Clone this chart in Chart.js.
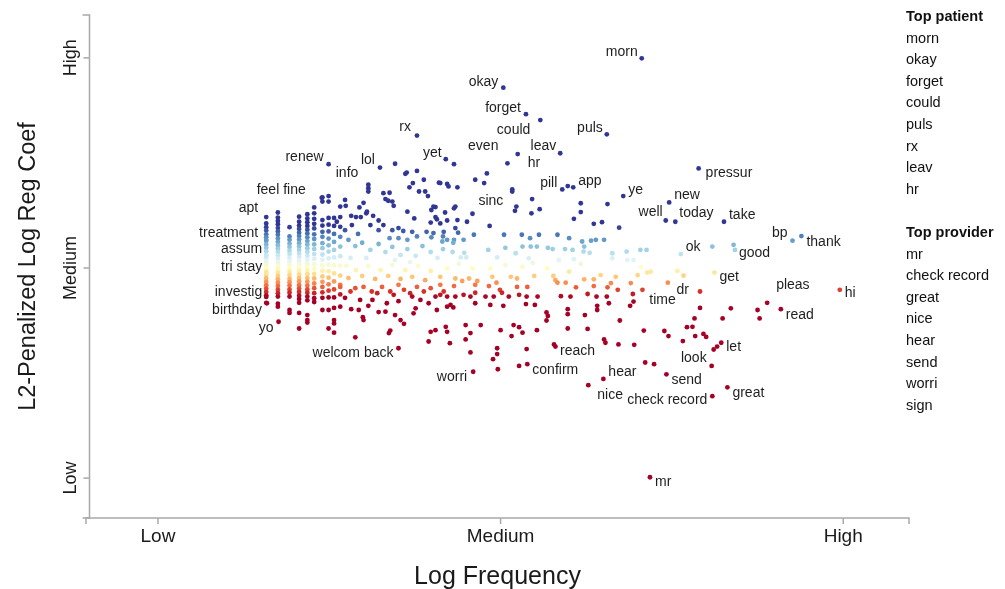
<!DOCTYPE html>
<html><head><meta charset="utf-8">
<script src="https://cdn.jsdelivr.net/npm/chart.js@4"></script>
<style>html,body{margin:0;padding:0;background:#fff}#wrap{width:1005px;height:589px;position:relative}</style>
</head><body><div id="wrap"><canvas id="c" width="1005" height="589"></canvas></div>
<script>
// ---------- DATA (x: log frequency, y: L2-penalized log reg coef; Low=0, Medium=50, High=100) ----------
const tickValues = [0, 50, 100];
const tickLabels = ['Low', 'Medium', 'High'];
const xTitle = 'Log Frequency';
const yTitle = 'L2-Penalized Log Reg Coef';

// dense low-frequency columns
const columnX = [15.8, 17.5, 19.2, 20.6, 21.8, 22.8, 24.0, 24.9, 25.7, 26.6];
const columnY = [
  [60.6,59.7,58.9,58.0,57.3,56.4,55.6,54.8,54.0,53.1,52.3,51.5,50.7,49.9,49.1,48.3,47.5,46.7,45.9,45.1,44.3,43.5,41.7],
  [63.2,62.0,61.2,60.4,59.5,58.7,57.9,57.0,56.2,55.4,54.6,53.8,53.0,52.2,51.3,50.5,49.7,48.9,48.1,47.3,46.5,45.7,44.8,44.0,43.2,41.5,40.8],
  [59.7,57.5,56.7,55.8,55.0,54.1,53.3,52.4,51.6,50.8,49.9,49.1,48.3,47.4,46.6,45.8,44.9,44.1,43.2,40.0,39.3],
  [62.2,61.0,60.1,59.3,58.4,57.6,56.8,55.9,55.1,54.3,53.4,52.6,51.8,50.9,50.1,49.3,48.4,47.6,46.8,45.9,45.1,44.3,43.4,42.6,41.7,39.3,35.6],
  [62.8,61.8,60.9,60.0,59.1,58.2,57.3,56.4,55.6,54.7,53.8,52.9,52.0,51.1,50.3,49.4,48.5,47.6,46.7,45.8,44.9,44.1,43.2,42.3,38.8,37.6,37.0],
  [64.4,63.0,61.7,60.5,59.4,58.0,56.9,55.6,54.5,53.3,52.2,50.9,49.8,48.6,47.5,46.3,45.2,44.0,42.8,41.9],
  [66.8,65.8,61.4,60.1,58.6,57.4,55.9,54.7,53.2,52.0,50.6,49.3,48.0,46.7,45.5,44.2,42.9,40.0],
  [67.1,65.8,61.9,60.3,58.7,57.0,55.4,53.9,52.3,50.8,49.2,47.7,46.1,44.6,43.0,40.0,35.6],
  [61.9,60.0,58.1,56.2,54.3,52.5,50.6,48.7,46.8,44.9,43.0,40.5,37.6,36.8,34.6],
  [62.1,59.8,57.4,55.1,52.8,50.5,48.2,46.0,43.7,40.8]
];

// other words, [x, y]
const upperWords = [
  [34.6,74.8],[36.3,72.7],[37.8,73.1],[30.7,68.2],[30.7,69.0],[32.9,67.8],[33.8,67.9],[33.2,66.4],[33.6,66.0],[34.2,65.8],
  [34.4,64.8],[37.2,70.2],[36.7,69.2],[38.8,71.0],[38.1,68.2],[39.0,68.2],[41.0,70.3],[42.2,70.0],[39.4,67.1],[27.3,66.2],
  [27.4,64.8],[30.0,65.5],[29.4,64.4],[26.6,64.6],[28.2,62.4],[28.9,62.1],[29.6,62.1],[30.5,63.4],[31.4,62.4],[34.2,59.0],
  [35.1,59.5],[36.4,63.4],[39.9,63.8],[40.7,61.6],[39.8,60.8],[40.5,64.5],[37.1,58.6],[33.8,57.1],[39.2,58.6],[39.9,57.3],
  [42.2,56.7],[30.4,63.0],[32.2,61.3],[32.9,60.2],[31.0,60.2],[32.2,59.0],[28.3,60.2],[26.1,61.0],[35.8,58.8],[36.4,56.7],
  [37.8,57.5],[40.2,58.3],[41.2,60.6],[41.7,58.6],[41.5,56.3],[43.2,56.7],[43.7,61.4],[37.4,61.8],[36.1,72.4],[42.4,69.4],
  [41.9,63.2],[43.4,64.6],[40.2,64.6],[43.2,74.7],[48.0,72.5],[46.3,71.0],[47.6,70.2],[41.2,70.2],[43.7,69.2],[51.7,68.7],
  [51.7,68.2],[59.8,69.5],[54.6,66.4],[61.7,65.4],[65.6,65.2],[43.2,64.2],[52.1,63.6],[55.7,64.0],[54.5,63.0],[45.9,62.9],
  [61.7,63.3],[60.7,61.7],[45.1,61.0],[42.2,61.3],[63.6,60.5],[64.8,60.9],[48.4,60.0],[43.4,59.5],[43.8,58.4],[46.1,57.9],
  [50.5,57.9],[53.1,57.9],[54.3,57.1],[55.6,57.9],[58.3,57.9],[60.0,57.1],[61.9,56.3],[63.2,56.5],[63.9,56.7],[65.1,56.7],
  [41.6,57.5],[44.6,56.7],[43.1,56.0],[67.3,59.6],[40.5,62.1]
];
const middleWords = [
  [41.6,54.5],[44.7,53.6],[53.2,55.1],[54.4,55.1],[55.3,55.1],[56.9,54.8],[57.6,54.5],[59.4,54.5],[60.5,54.3],[62.2,55.1],
  [62.1,53.9],[66.3,53.5],[66.3,52.3],[68.5,51.9],[69.4,51.9],[70.4,54.3],[71.3,54.3],[44.2,52.5],[45.0,52.5],[49.5,52.5],
  [52.2,53.5],[54.1,52.3],[58.5,51.9],[60.7,52.1],[48.2,54.3],[50.7,54.8],[80.9,55.1],[84.0,55.5],[63.0,53.6],[68.4,53.9],
  [27.8,56.7],[28.8,55.2],[29.8,56.0],[31.0,54.3],[32.2,55.7],[33.2,53.8],[34.2,55.0],[35.4,53.1],[36.4,54.5],[37.6,52.9],
  [38.6,55.2],[39.8,53.8],[40.8,52.4],[43.0,53.8],[28.1,52.4],[30.4,52.4],[34.6,51.9],[36.8,51.4],[27.3,59.0],[29.2,58.1],
  [35.1,57.1],
  [27.5,50.5],[28.9,49.5],[30.7,50.5],[32.5,49.5],[34.2,50.7],[36.1,49.5],[38.0,50.5],[39.8,49.3],[42.2,49.9],[45.9,49.9],
  [48.5,49.9],[53.2,50.3],[56.8,49.9],[60.0,49.1],[64.6,48.3],[66.8,47.9],[70.5,50.2],[71.9,49.1],[75.8,49.3],[76.7,48.2],
  [43.9,51.0],[50.7,50.7],[54.7,51.2],[61.7,51.0],
  [41.2,47.9],[43.4,47.5],[44.4,46.9],[45.4,47.5],[46.6,46.9],[48.8,47.9],[51.5,47.9],[52.4,47.5],[54.9,48.1],[57.7,48.1],
  [58.0,47.1],[58.3,46.5],[59.5,46.5],[62.2,47.3],[63.6,47.3],[65.6,45.4],[43.2,45.7],[46.3,46.0],[48.3,45.7],[49.4,46.5],
  [49.9,44.8],[52.4,45.5],[53.9,45.5],[61.0,45.4],[63.6,45.7],[71.4,48.9],[70.0,48.3],[26.6,45.5],[28.1,44.4],[28.8,45.2],
  [30.0,45.5],[31.2,44.4],[32.7,45.5],[35.1,46.0],[35.9,44.8],[37.8,45.5],[39.8,45.2],[41.2,46.0],[27.8,47.6],[29.8,48.1],
  [31.7,47.4],[33.6,48.1],[35.4,47.4],[37.1,47.9],[39.0,47.1],[66.1,46.4],[67.1,44.8],[69.0,46.4]
];
const lowerWords = [
  [41.2,43.6],[42.2,43.2],[43.4,43.2],[44.6,43.6],[45.6,43.2],[46.3,44.1],[47.8,43.2],[49.0,43.2],[50.2,44.1],[51.2,43.2],
  [52.7,43.6],[53.8,43.2],[55.4,43.2],[58.8,43.3],[60.2,43.2],[62.7,43.8],[64.0,43.2],[65.5,43.2],[69.3,43.8],[42.7,41.2],
  [43.1,40.6],[46.3,41.6],[48.5,41.2],[50.4,41.0],[53.7,41.4],[55.0,41.2],[56.7,39.4],[56.9,38.6],[59.8,40.2],[59.8,39.0],
  [62.3,38.8],[64.1,41.0],[64.1,40.0],[65.8,41.6],[67.4,37.5],[68.9,41.0],[69.4,42.0],[70.7,44.8],[79.1,40.5],[78.3,38.0],
  [83.6,40.4],[82.4,38.0],[87.5,40.0],[87.8,38.0],[28.2,40.2],[29.3,40.0],[29.9,38.3],[30.0,37.6],[29.5,42.4],[33.4,41.6],
  [33.2,39.6],[33.7,34.5],[33.9,35.1],[35.4,37.6],[35.9,36.7],[37.3,39.2],[37.6,40.4],[39.5,41.6],[39.8,34.8],[39.5,32.5],
  [40.5,35.2],[42.0,36.0],[40.7,40.0],[42.2,40.8],[28.8,33.5],[34.4,43.6],[36.8,44.0],[37.1,43.2],[38.8,44.4],[40.5,43.2],
  [41.7,44.4],[32.0,44.0],[33.9,44.4],[27.3,42.9],[31.3,42.4],[35.1,42.1],[38.3,42.4],[30.7,41.0],[32.2,39.5],[34.6,38.8],
  [42.2,34.8],[44.9,36.4],[45.6,34.5],[47.1,36.4],[44.9,33.0],[42.6,32.1],[45.6,29.9],[50.0,35.2],[51.9,36.4],[52.7,35.9],
  [53.2,34.6],[51.6,33.8],[55.3,35.2],[56.7,37.5],[59.8,35.6],[62.7,35.5],[49.5,30.9],[49.5,29.5],[48.9,28.3],[49.6,25.9],
  [53.8,30.7],[58.0,31.3],[52.7,26.7],[65.1,33.0],[65.3,32.2],[67.2,31.8],[69.5,31.7],[70.9,35.1],[73.9,35.0],[74.5,33.8],
  [76.6,32.6],[77.2,35.9],[78.0,36.0],[78.4,33.8],[79.6,34.3],[80.0,33.6],[81.1,30.6],[81.6,31.3],[71.1,27.5],[72.4,27.1]
];

// labelled words
const labelWords = ['morn','okay','forget','could','puls','rx','leav','hr','even','yet','renew','lol','info','feel fine',
  'apt','treatment','assum','tri stay','investig','birthday','yo','welcom back','sinc','pill','app','ye','pressur','new',
  'well','today','take','ok','good','bp','thank','get','pleas','hi','read','time','dr','reach','confirm','worri','hear',
  'nice','send','check record','great','look','let','mr'];
const labelX = [70.6,50.4,53.7,55.8,65.5,37.8,58.7,52.5,51.0,42.0,24.9,32.4,30.7,23.9,
  15.8,15.8,15.8,15.8,15.8,15.9,17.6,35.1,52.3,59.0,60.6,67.9,78.9,74.6,
  74.1,75.5,82.6,76.3,84.2,92.6,93.9,81.2,88.9,99.5,90.9,74.4,79.1,57.8,53.9,46.0,65.0,
  62.8,74.2,80.9,83.1,80.8,82.2,71.8];
const labelY = [99.9,92.9,86.6,85.2,81.8,81.5,77.3,77.1,74.9,75.9,74.7,73.9,69.8,66.7,
  62.1,56.7,52.9,48.8,43.1,41.6,37.2,30.9,64.6,68.7,69.2,67.1,73.7,65.6,
  61.3,61.0,61.0,53.3,54.3,56.5,57.6,48.9,41.7,44.8,40.2,46.5,44.4,31.8,27.1,25.3,23.6,
  22.1,24.7,19.5,21.6,26.7,32.2,0.2];

const topPatient = ['morn','okay','forget','could','puls','rx','leav','hr'];
const topProvider = ['mr','check record','great','nice','hear','send','worri','sign'];

// ---------- STYLE ----------
// text placement for labels: [dx, dy, align] in pixels relative to the dot
const labelPlacement = [[-4,-6,'right'],[-5,-6,'right'],[-5,-6,'right'],[-10,10,'right'],[-4,-6,'right'],[-6,-8,'right'],
  [-4,-7,'right'],[10,9,'left'],[-9,-17,'right'],[-4,-6,'right'],[-5,-7,'right'],[-5,-7,'right'],[-10,-12,'right'],[-16,-8,'right'],
  [-8,-9,'right'],[-8,-7,'right'],[-4,-7,'right'],[-4,-6,'right'],[-4,-5,'right'],[-5,7,'right'],[-5,6,'right'],[-5,5,'right'],
  [-13,-5,'right'],[-5,-6,'right'],[5,-6,'left'],[5,-6,'left'],[7,5,'left'],[5,-7,'left'],
  [-3,-8,'right'],[4,-9,'left'],[5,-7,'left'],[5,-7,'left'],[4,3,'left'],[-5,-8,'right'],[5,6,'left'],[5,5,'left'],
  [9,-18,'left'],[5,3,'left'],[5,6,'left'],[8,17,'right'],[-11,-1,'right'],[6,7,'left'],[5,6,'left'],[-6,5,'right'],[5,-7,'left'],
  [9,10,'left'],[5,6,'left'],[-5,4,'right'],[5,6,'left'],[-5,-8,'right'],[5,4,'left'],[5,5,'left']];

const FONT = '"Liberation Sans", Arial, Helvetica, sans-serif';
const RDYLBU = ['#a50026','#d73027','#f46d43','#fdae61','#fee090','#ffffbf','#e0f3f8','#abd9e9','#74add1','#4575b4','#313695'];
function hexToRgb(h){return [parseInt(h.slice(1,3),16),parseInt(h.slice(3,5),16),parseInt(h.slice(5,7),16)];}
function colorFor(v){
  let t = v >= 50 ? Math.min(1,(v-50)/10) : Math.max(-1,(v-50)/7);
  const f = (t+1)/2*10;
  const i = Math.min(9, Math.floor(f));
  const r = f - i;
  const a = hexToRgb(RDYLBU[i]), b = hexToRgb(RDYLBU[i+1]);
  const c = a.map((av,k)=>Math.round(av+(b[k]-av)*r));
  return 'rgb('+c.join(',')+')';
}

const points = [];
columnX.forEach((cx,i)=>columnY[i].forEach(v=>points.push({x:cx,y:v})));
[upperWords, middleWords, lowerWords].forEach(g=>g.forEach(p=>points.push({x:p[0],y:p[1]})));
labelWords.forEach((w,i)=>points.push({x:labelX[i],y:labelY[i]}));

const decorations = {
  id:'decorations',
  afterDraw(chart){
    const {ctx, chartArea:a, scales:{x,y}} = chart;
    ctx.save();
    // axes
    ctx.strokeStyle = '#a9a9a9'; ctx.lineWidth = 1.5;
    const yAxisX = a.left + 3.5;
    ctx.beginPath();
    ctx.moveTo(yAxisX-7, a.top); ctx.lineTo(yAxisX, a.top); ctx.lineTo(yAxisX, a.bottom); ctx.lineTo(yAxisX-7, a.bottom);
    ctx.stroke();
    ctx.beginPath();
    ctx.moveTo(a.left, a.bottom+6); ctx.lineTo(a.left, a.bottom); ctx.lineTo(a.right, a.bottom); ctx.lineTo(a.right, a.bottom+6);
    ctx.stroke();
    ctx.fillStyle = '#1a1a1a';
    tickValues.forEach((v,i)=>{
      const px = x.getPixelForValue(v), py = y.getPixelForValue(v);
      ctx.beginPath(); ctx.moveTo(px, a.bottom); ctx.lineTo(px, a.bottom+6); ctx.stroke();
      ctx.beginPath(); ctx.moveTo(yAxisX, py); ctx.lineTo(yAxisX-6, py); ctx.stroke();
      ctx.font = '19px '+FONT; ctx.textAlign='center'; ctx.textBaseline='middle';
      ctx.fillText(tickLabels[i], px, a.bottom+19);
      ctx.save(); ctx.translate(yAxisX-18, py); ctx.rotate(-Math.PI/2);
      ctx.font = '18px '+FONT; ctx.fillText(tickLabels[i], 0, 0); ctx.restore();
    });
    // titles
    ctx.textAlign='center'; ctx.textBaseline='middle';
    ctx.font = '25px '+FONT;
    ctx.fillText(xTitle, (a.left+a.right)/2, a.bottom+59);
    ctx.font = '23.5px '+FONT;
    ctx.save(); ctx.translate(29, (a.top+a.bottom)/2); ctx.rotate(-Math.PI/2);
    ctx.fillText(yTitle, 0, 0); ctx.restore();
    // word labels
    ctx.font = '14px '+FONT; ctx.fillStyle = '#1e1e1e'; ctx.textBaseline='middle';
    labelWords.forEach((w,i)=>{
      const px = x.getPixelForValue(labelX[i]), py = y.getPixelForValue(labelY[i]);
      const pl = labelPlacement[i];
      ctx.textAlign = pl[2];
      ctx.fillText(w, px+pl[0], py+pl[1]);
    });
    // side lists
    const lx = a.right - 3, step = 21.6;
    ctx.textAlign='left'; ctx.fillStyle='#111';
    ctx.font = 'bold 14.5px '+FONT; ctx.fillText('Top patient', lx, 17);
    ctx.font = '14.5px '+FONT;
    topPatient.forEach((w,i)=>ctx.fillText(w, lx, 17+(i+1)*step));
    ctx.font = 'bold 14.5px '+FONT; ctx.fillText('Top provider', lx, 17+10*step);
    ctx.font = '14.5px '+FONT;
    topProvider.forEach((w,i)=>ctx.fillText(w, lx, 17+(11+i)*step));
    ctx.restore();
  }
};

new Chart(document.getElementById('c'), {
  type:'scatter',
  data:{datasets:[{
    data: points,
    pointRadius: 2.4,
    pointHoverRadius: 2.4,
    pointBorderWidth: 0,
    pointBackgroundColor: ctx => colorFor(ctx.raw ? ctx.raw.y : 50),
    pointBorderColor: 'rgba(0,0,0,0)'
  }]},
  options:{
    responsive:false, devicePixelRatio:1, animation:false,
    layout:{padding:{left:86, top:15, right:96, bottom:71}},
    plugins:{legend:{display:false}, tooltip:{enabled:false}},
    scales:{
      x:{type:'linear', min:-10.5, max:109.6, display:false},
      y:{type:'linear', min:-9.5, max:110.2, display:false}
    }
  },
  plugins:[decorations]
});
</script>
</body></html>
